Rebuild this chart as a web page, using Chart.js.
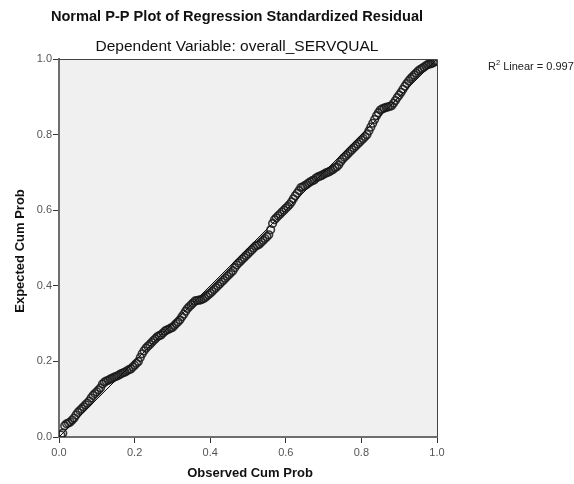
<!DOCTYPE html>
<html><head><meta charset="utf-8">
<script src="https://cdn.jsdelivr.net/npm/chart.js@4.4.1/dist/chart.umd.min.js"></script>
<style>html,body{margin:0;padding:0;background:#fff}#wrap{width:574px;height:484px}</style>
</head><body><div id="wrap"><canvas id="c"></canvas></div>
<script>
const observedCumProb = [
0.005,0.010,0.015,0.020,0.025,0.030,0.035,0.040,0.045,0.050,
0.055,0.060,0.065,0.070,0.075,0.080,0.085,0.090,0.095,0.100,
0.105,0.110,0.115,0.120,0.125,0.130,0.135,0.140,0.145,0.150,
0.155,0.160,0.165,0.170,0.175,0.180,0.185,0.190,0.195,0.200,
0.205,0.210,0.215,0.220,0.225,0.230,0.235,0.240,0.245,0.250,
0.255,0.260,0.265,0.270,0.275,0.280,0.285,0.290,0.295,0.300,
0.305,0.310,0.315,0.320,0.325,0.330,0.335,0.340,0.345,0.350,
0.355,0.360,0.365,0.370,0.375,0.380,0.385,0.390,0.395,0.400,
0.405,0.410,0.415,0.420,0.425,0.430,0.435,0.440,0.445,0.450,
0.455,0.460,0.465,0.470,0.475,0.480,0.485,0.490,0.495,0.500,
0.505,0.510,0.515,0.520,0.525,0.530,0.535,0.540,0.545,0.550,
0.555,0.560,0.565,0.570,0.575,0.580,0.585,0.590,0.595,0.600,
0.605,0.610,0.615,0.620,0.625,0.630,0.635,0.640,0.645,0.650,
0.655,0.660,0.665,0.670,0.675,0.680,0.685,0.690,0.695,0.700,
0.705,0.710,0.715,0.720,0.725,0.730,0.735,0.740,0.745,0.750,
0.755,0.760,0.765,0.770,0.775,0.780,0.785,0.790,0.795,0.800,
0.805,0.810,0.815,0.820,0.825,0.830,0.835,0.840,0.845,0.850,
0.855,0.860,0.865,0.870,0.875,0.880,0.885,0.890,0.895,0.900,
0.905,0.910,0.915,0.920,0.925,0.930,0.935,0.940,0.945,0.950,
0.955,0.960,0.965,0.970,0.975,0.980,0.985,0.990,0.995,1.000];
const expectedCumProb = [
0.005,0.01,0.03,0.035,0.037,0.04,0.045,0.05,0.058,0.065,
0.07,0.075,0.08,0.085,0.09,0.095,0.103,0.11,0.115,0.12,
0.125,0.13,0.14,0.145,0.148,0.15,0.153,0.155,0.158,0.16,
0.162,0.165,0.168,0.17,0.172,0.175,0.178,0.18,0.185,0.19,
0.195,0.20,0.21,0.22,0.228,0.235,0.24,0.245,0.25,0.255,
0.26,0.265,0.268,0.27,0.275,0.28,0.283,0.285,0.288,0.29,
0.295,0.30,0.305,0.31,0.318,0.325,0.333,0.34,0.345,0.35,
0.355,0.36,0.361,0.362,0.363,0.365,0.368,0.372,0.376,0.38,
0.385,0.39,0.395,0.40,0.405,0.41,0.415,0.42,0.425,0.43,
0.435,0.44,0.448,0.455,0.46,0.465,0.47,0.475,0.48,0.485,
0.49,0.495,0.50,0.505,0.507,0.51,0.515,0.52,0.525,0.53,
0.535,0.548,0.565,0.575,0.58,0.585,0.59,0.595,0.60,0.605,
0.61,0.615,0.622,0.63,0.638,0.645,0.652,0.66,0.662,0.665,
0.668,0.672,0.675,0.678,0.68,0.685,0.688,0.69,0.692,0.695,
0.698,0.70,0.702,0.705,0.708,0.712,0.715,0.72,0.728,0.735,
0.74,0.745,0.75,0.755,0.76,0.765,0.77,0.775,0.78,0.785,
0.79,0.795,0.80,0.81,0.82,0.83,0.84,0.85,0.858,0.865,
0.868,0.87,0.872,0.873,0.875,0.876,0.883,0.89,0.898,0.905,
0.912,0.92,0.928,0.935,0.942,0.948,0.953,0.958,0.963,0.968,
0.972,0.975,0.978,0.982,0.985,0.987,0.988,0.99,0.993,0.995];
const referenceLine = [[0,0],[1,1]];
const tickValues = [0.0,0.2,0.4,0.6,0.8,1.0];
const titleText = "Normal P-P Plot of Regression Standardized Residual";
const subtitleText = "Dependent Variable: overall_SERVQUAL";
const xTitle = "Observed Cum Prob";
const yTitle = "Expected Cum Prob";
const r2Label = "0.997";

const F = "'Liberation Sans', Arial, sans-serif";

const decor = {
  id: 'decor',
  beforeDraw(chart) {
    const {ctx, chartArea: a} = chart;
    ctx.save();
    ctx.fillStyle = '#f0f0f0';
    ctx.fillRect(a.left, a.top, a.right - a.left, a.bottom - a.top);
    ctx.restore();
  },
  afterDraw(chart) {
    const {ctx, chartArea: a} = chart;
    ctx.save();
    ctx.strokeStyle = '#444';
    ctx.lineWidth = 1;
    ctx.beginPath();
    ctx.moveTo(a.left, a.top + 0.5); ctx.lineTo(a.right + 0.5, a.top + 0.5);
    ctx.lineTo(a.right + 0.5, a.bottom);
    ctx.stroke();
    ctx.fillStyle = '#111';
    ctx.textAlign = 'center'; ctx.textBaseline = 'middle';
    ctx.font = 'bold 14.6px ' + F;
    ctx.fillText(titleText, 237, 17);
    ctx.font = '15.5px ' + F;
    ctx.fillText(subtitleText, 237, 47);
    ctx.font = 'bold 13px ' + F;
    ctx.fillText(xTitle, 250, 473);
    ctx.save();
    ctx.translate(20, 251); ctx.rotate(-Math.PI / 2);
    ctx.fillText(yTitle, 0, 0);
    ctx.restore();
    // R² label
    ctx.textAlign = 'left';
    ctx.font = '11px ' + F;
    ctx.fillStyle = '#222';
    let x = 488;
    ctx.fillText('R', x, 67); x += ctx.measureText('R').width;
    ctx.font = '7.5px ' + F;
    ctx.fillText('2', x, 63); x += ctx.measureText('2').width;
    ctx.font = '11px ' + F;
    ctx.fillText(' Linear = ' + r2Label, x, 67);
    ctx.restore();
  }
};

new Chart(document.getElementById('c'), {
  type: 'scatter',
  data: {
    datasets: [
      {
        type: 'line',
        data: referenceLine.map(p => ({x: p[0], y: p[1]})),
        borderColor: '#111', borderWidth: 1, pointRadius: 0, fill: false
      },
      {
        data: observedCumProb.map((v, i) => ({x: v, y: expectedCumProb[i]})),
        pointRadius: 3.8, pointBorderWidth: 1.6,
        pointBorderColor: 'rgba(25,25,25,0.85)', pointBackgroundColor: 'rgba(0,0,0,0)'
      }
    ]
  },
  options: {
    responsive: true, maintainAspectRatio: false, animation: false,
    devicePixelRatio: 1,
    layout: {padding: {top: 59, right: 137, left: 0, bottom: 0}},
    plugins: {legend: {display: false}, tooltip: {enabled: false}},
    scales: {
      x: {
        type: 'linear', min: 0, max: 1,
        afterFit: s => { s.height = 47; },
        afterBuildTicks: s => { s.ticks = tickValues.map(v => ({value: v})); },
        ticks: {color: '#555', font: {size: 11, family: F}, padding: 3, callback: v => v.toFixed(1), maxRotation: 0},
        grid: {drawOnChartArea: false, tickLength: 6, color: '#333', tickWidth: 1},
        border: {display: true, color: '#6e6e6e', width: 2}
      },
      y: {
        type: 'linear', min: 0, max: 1,
        afterFit: s => { s.width = 59; },
        afterBuildTicks: s => { s.ticks = tickValues.map(v => ({value: v})); },
        ticks: {color: '#555', font: {size: 11, family: F}, padding: 1, callback: v => v.toFixed(1)},
        grid: {drawOnChartArea: false, tickLength: 6, color: '#333', tickWidth: 1},
        border: {display: true, color: '#6e6e6e', width: 2}
      }
    }
  },
  plugins: [decor]
});
</script></body></html>
